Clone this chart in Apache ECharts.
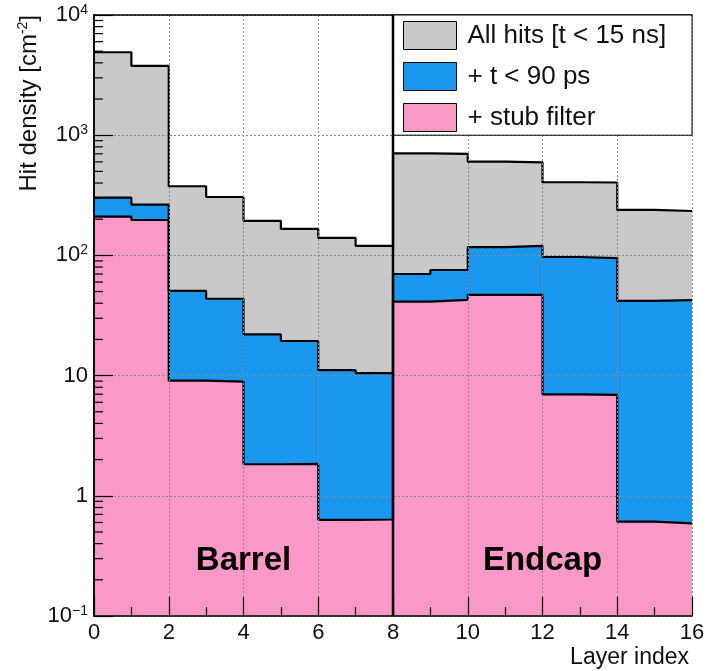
<!DOCTYPE html>
<html>
<head>
<meta charset="utf-8">
<script src="https://cdn.jsdelivr.net/npm/echarts@6/dist/echarts.min.js"></script>
<style>
  html, body { margin: 0; padding: 0; background: #fff; }
  #chart { width: 712px; height: 671px; }
</style>
</head>
<body>
<div id="chart"></div>
<script>
// 数据：每层的击中密度 (cm^-2)
var layerEdges = [0, 1, 2, 3, 4, 5, 6, 7, 8, 9, 10, 11, 12, 13, 14, 15, 16];
var allHits = [4900, 3770, 376, 306, 194, 166, 140, 120, 707, 700, 602, 595, 406, 404, 239, 234];
var timeCut = [302, 264, 50.6, 43.6, 22, 19.4, 11.1, 10.5, 70, 75.6, 117, 120, 97, 95, 41.8, 42.5];
var stubCut = [210, 197, 9.07, 8.9, 1.83, 1.84, 0.63, 0.635, 41.2, 42.6, 46.9, 46.9, 6.98, 6.9, 0.61, 0.59];
var seriesNames = ['All hits [t < 15 ns]', '+ t < 90 ps', '+ stub filter'];
var seriesColors = ['#c9c9c9', '#1a98f0', '#fa98c8'];
var yExponents = [-1, 0, 1, 2, 3, 4];
var yTickLabels = ['10{s|\u22121}', '1', '10', '10{s|2}', '10{s|3}', '10{s|4}'];
var sectionEdges = [8];
var regionLabels = ['Barrel', 'Endcap'];

var FONT = 'Liberation Sans, Arial, Helvetica, sans-serif';

// 次刻度 2..9 x 10^k
var yMinor = [];
for (var k = -1; k < 4; k++) {
  for (var m = 2; m <= 9; m++) yMinor.push([0, m * Math.pow(10, k)]);
}

function toSteps(vals) {
  var pts = [];
  for (var i = 0; i < vals.length; i++) pts.push([layerEdges[i], vals[i]]);
  pts.push([layerEdges[vals.length], vals[vals.length - 1]]);
  return pts;
}

var myChart = echarts.init(document.getElementById('chart'));

var histSeries = [allHits, timeCut, stubCut].map(function (vals, i) {
  return {
    name: seriesNames[i],
    type: 'line',
    step: 'end',
    data: toSteps(vals),
    symbol: 'none',
    showSymbol: false,
    silent: true,
    color: seriesColors[i],
    lineStyle: { color: '#000', width: 2.2 },
    areaStyle: { color: seriesColors[i], opacity: 1, origin: 'start' },
    z: 2
  };
});

var option = {
  animation: false,
  grid: { left: 94, right: 20, top: 15, bottom: 55 },
  legend: {
    orient: 'vertical',
    left: 403,
    top: 21,
    padding: 0,
    itemWidth: 53,
    itemHeight: 28,
    itemGap: 12,
    selectedMode: false,
    z: 6,
    data: seriesNames.map(function (n, i) {
      return { name: n, icon: 'rect', itemStyle: { color: seriesColors[i], borderColor: '#000', borderWidth: 1 } };
    }),
    textStyle: { fontSize: 26, fontFamily: FONT, color: '#111', padding: [0, 0, 0, 6] }
  },
  xAxis: [{
    type: 'value',
    min: 0, max: 16, interval: 2,
    z: 3,
    axisLine: { show: true, lineStyle: { color: '#000', width: 1.5 } },
    axisTick: { show: true, inside: true, length: 19, lineStyle: { color: '#000', width: 1.2 } },
    minorTick: { show: true, splitNumber: 2, length: 9, lineStyle: { color: '#000', width: 1.2 } },
    axisLabel: { fontSize: 22, margin: 6, color: '#111', fontFamily: FONT, showMinLabel: true, showMaxLabel: true },
    splitLine: { show: true, lineStyle: { color: '#888', type: [2, 2], width: 1 } }
  }, {
    type: 'value',
    position: 'top',
    min: 0, max: 16,
    z: 3,
    axisLine: { show: true, onZero: false, lineStyle: { color: '#000', width: 1.5 } },
    axisTick: { show: false },
    axisLabel: { show: false },
    splitLine: { show: false }
  }],
  yAxis: [{
    type: 'log',
    logBase: 10,
    min: 0.1, max: 10000,
    z: 3,
    axisLine: { show: true, lineStyle: { color: '#000', width: 1.5 } },
    axisTick: { show: true, inside: true, length: 19, lineStyle: { color: '#000', width: 1.2 } },
    axisLabel: {
      fontSize: 22, margin: 6, color: '#111', fontFamily: FONT, lineHeight: 24,
      showMinLabel: true, showMaxLabel: true,
      formatter: function (v) {
        var e = Math.round(Math.log10(v));
        return yTickLabels[yExponents.indexOf(e)];
      },
      rich: { s: { fontSize: 14, lineHeight: 14, verticalAlign: 'top', fontFamily: FONT, color: '#111' } }
    },
    splitLine: { show: true, lineStyle: { color: '#888', type: [2, 2], width: 1 } }
  }, {
    type: 'log',
    logBase: 10,
    position: 'right',
    min: 0.1, max: 10000,
    z: 3,
    axisLine: { show: true, lineStyle: { color: '#000', width: 1.5 } },
    axisTick: { show: false },
    axisLabel: { show: false },
    splitLine: { show: false }
  }],
  series: histSeries.concat([{
    // y 轴次刻度
    type: 'custom',
    silent: true,
    z: 7,
    data: yMinor,
    renderItem: function (params, api) {
      var p = api.coord([api.value(0), api.value(1)]);
      return { type: 'line', shape: { x1: p[0], y1: p[1], x2: p[0] + 9, y2: p[1] }, style: { stroke: '#000', lineWidth: 1.2 } };
    }
  }, {
    // Barrel / Endcap 分界线
    type: 'custom',
    silent: true,
    z: 7,
    data: sectionEdges.map(function (x) { return [x]; }),
    renderItem: function (params, api) {
      var a = api.coord([api.value(0), 0.1]);
      var b = api.coord([api.value(0), 10000]);
      return { type: 'line', shape: { x1: a[0], y1: a[1], x2: b[0], y2: b[1] }, style: { stroke: '#000', lineWidth: 2.5 } };
    }
  }])
};

myChart.setOption(option);

// 图例框和文字
var boxA = myChart.convertToPixel({ gridIndex: 0 }, [8, 10000]);
var boxB = myChart.convertToPixel({ gridIndex: 0 }, [16, 1000]);
var barrelPos = myChart.convertToPixel({ gridIndex: 0 }, [4, 0.29]);
var endcapPos = myChart.convertToPixel({ gridIndex: 0 }, [12, 0.29]);

myChart.setOption({
  graphic: [
    {
      type: 'rect', z: 5, silent: true,
      shape: { x: boxA[0], y: boxA[1], width: boxB[0] - boxA[0], height: boxB[1] - boxA[1] },
      style: { fill: '#fff', stroke: '#000', lineWidth: 1 }
    },
    {
      type: 'text', z: 8, silent: true, x: barrelPos[0], y: barrelPos[1],
      style: { text: regionLabels[0], fontSize: 33, fontWeight: 'bold', fontFamily: FONT, fill: '#000', align: 'center', verticalAlign: 'middle' }
    },
    {
      type: 'text', z: 8, silent: true, x: endcapPos[0], y: endcapPos[1],
      style: { text: regionLabels[1], fontSize: 33, fontWeight: 'bold', fontFamily: FONT, fill: '#000', align: 'center', verticalAlign: 'middle' }
    },
    {
      type: 'text', z: 8, silent: true, x: 689, y: 658,
      style: { text: 'Layer index', fontSize: 23, fontFamily: FONT, fill: '#111', align: 'right', verticalAlign: 'middle' }
    },
    {
      type: 'text', z: 8, silent: true, x: 29, y: 15, rotation: Math.PI / 2,
      style: {
        text: 'Hit density [cm{s|-2}]', fontSize: 24, fontFamily: FONT, fill: '#111',
        align: 'right', verticalAlign: 'middle', lineHeight: 26,
        rich: { s: { fontSize: 14, lineHeight: 14, verticalAlign: 'top', fontFamily: FONT, fill: '#111' } }
      }
    }
  ]
});
</script>
</body>
</html>
